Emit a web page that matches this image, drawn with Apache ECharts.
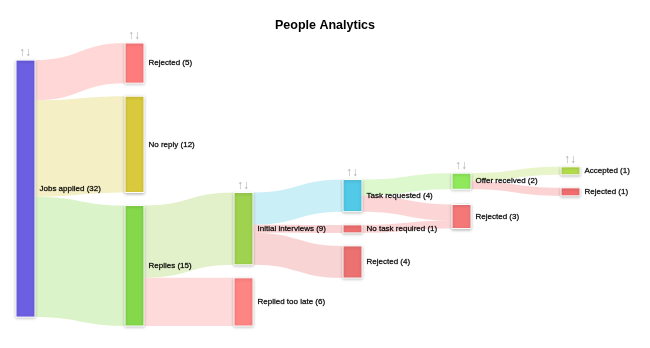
<!DOCTYPE html>
<html>
<head>
<meta charset="utf-8">
<title>People Analytics</title>
<script src="https://cdn.jsdelivr.net/npm/echarts@6/dist/echarts.min.js"></script>
<style>
  html, body { margin: 0; padding: 0; background: #fff; }
  #chart { width: 650px; height: 348px; }
</style>
</head>
<body>
<div id="chart"></div>
<script>
// Stages of the application funnel (node labels, in column order)
const nodeLabels = [
  'Jobs applied',
  'Rejected', 'No reply', 'Replies',
  'Initial interviews', 'Replied too late',
  'Task requested', 'No task required', 'Rejected',
  'Offer received', 'Rejected',
  'Accepted', 'Rejected'
];
const nodeColors = [
  '#6c5fe2',
  '#ff7c7c', '#d9c93c', '#84d84a',
  '#9fd24f', '#ff8484',
  '#52c9e6', '#ee7070', '#ec7171',
  '#8fe95b', '#f47878',
  '#b4dc4e', '#f26e6e'
];

// Flows between stages (indices into nodeLabels)
const linkSources = [0, 0, 0, 3, 3, 4, 4, 4, 6, 6, 7, 9, 9];
const linkTargets = [1, 2, 3, 4, 5, 6, 7, 8, 9, 10, 10, 11, 12];
const linkValues  = [5, 12, 15, 9, 6, 4, 1, 4, 2, 2, 1, 1, 1];

// Node totals: the larger of inflow and outflow
const inflow = nodeLabels.map(() => 0);
const outflow = nodeLabels.map(() => 0);
linkValues.forEach((v, i) => {
  outflow[linkSources[i]] += v;
  inflow[linkTargets[i]] += v;
});
const nodeTotals = nodeLabels.map((_, i) => Math.max(inflow[i], outflow[i]));

const layoutBox = { left: 16, top: 43, right: 70, bottom: 22 };
const nodeGap = 13;
const nodeWidth = 19;

// Vertical node arrangement: relaxation over link positions that keeps
// the listed order inside each column (d3-sankey style).
function arrangeColumns(height, gap, iterations) {
  const nodes = nodeLabels.map((_, i) => ({
    index: i, value: nodeTotals[i], sourceLinks: [], targetLinks: [], layer: 0, y0: 0, y1: 0
  }));
  const links = linkValues.map((v, i) => ({
    source: nodes[linkSources[i]], target: nodes[linkTargets[i]], value: v, width: 0
  }));
  links.forEach((l) => { l.source.sourceLinks.push(l); l.target.targetLinks.push(l); });

  // column = longest path from a starting node
  for (let pass = 0; pass < nodes.length; pass++) {
    links.forEach((l) => { l.target.layer = Math.max(l.target.layer, l.source.layer + 1); });
  }
  const columns = [];
  nodes.forEach((nd) => { (columns[nd.layer] = columns[nd.layer] || []).push(nd); });

  const maxLen = Math.max(...columns.map((c) => c.length));
  const py = Math.min(gap, height / (maxLen - 1));
  const ky = Math.min(...columns.map((c) =>
    (height - (c.length - 1) * py) / c.reduce((s, nd) => s + nd.value, 0)));

  const byTarget = (a, b) => a.target.y0 - b.target.y0 || a.target.index - b.target.index;
  const bySource = (a, b) => a.source.y0 - b.source.y0 || a.source.index - b.source.index;
  const sortLinks = (nd) => {
    nd.sourceLinks.sort(byTarget);
    nd.targetLinks.sort(bySource);
  };
  const reorderNodeLinks = (nd) => {
    nd.targetLinks.forEach((l) => l.source.sourceLinks.sort(byTarget));
    nd.sourceLinks.forEach((l) => l.target.targetLinks.sort(bySource));
  };

  columns.forEach((col) => {
    let y = 0;
    col.forEach((nd) => {
      nd.y0 = y;
      nd.y1 = y + nd.value * ky;
      y = nd.y1 + py;
      nd.sourceLinks.forEach((l) => { l.width = l.value * ky; });
    });
    const spare = (height - y + py) / (col.length + 1);
    col.forEach((nd, i) => { nd.y0 += spare * (i + 1); nd.y1 += spare * (i + 1); });
    col.forEach(sortLinks);
  });

  const pushDown = (col, y, i, alpha) => {
    for (; i < col.length; ++i) {
      const nd = col[i];
      const dy = (y - nd.y0) * alpha;
      if (dy > 1e-6) { nd.y0 += dy; nd.y1 += dy; }
      y = nd.y1 + py;
    }
  };
  const pushUp = (col, y, i, alpha) => {
    for (; i >= 0; --i) {
      const nd = col[i];
      const dy = (nd.y1 - y) * alpha;
      if (dy > 1e-6) { nd.y0 -= dy; nd.y1 -= dy; }
      y = nd.y0 - py;
    }
  };
  const resolveCollisions = (col, alpha) => {
    const i = col.length >> 1;
    const subject = col[i];
    pushUp(col, subject.y0 - py, i - 1, alpha);
    pushDown(col, subject.y1 + py, i + 1, alpha);
    pushUp(col, height, col.length - 1, alpha);
    pushDown(col, 0, 0, alpha);
  };
  const targetTop = (source, target) => {
    let y = source.y0 - (source.sourceLinks.length - 1) * py / 2;
    for (const l of source.sourceLinks) { if (l.target === target) break; y += l.width + py; }
    for (const l of target.targetLinks) { if (l.source === source) break; y -= l.width; }
    return y;
  };
  const sourceTop = (source, target) => {
    let y = target.y0 - (target.targetLinks.length - 1) * py / 2;
    for (const l of target.targetLinks) { if (l.source === source) break; y += l.width + py; }
    for (const l of source.sourceLinks) { if (l.target === target) break; y -= l.width; }
    return y;
  };

  for (let it = 0; it < iterations; ++it) {
    const alpha = Math.pow(0.99, it);
    const beta = Math.max(1 - alpha, (it + 1) / iterations);
    for (let c = columns.length - 2; c >= 0; --c) {
      const col = columns[c];
      col.forEach((source) => {
        let y = 0, w = 0;
        source.sourceLinks.forEach((l) => {
          const v = l.value * (l.target.layer - source.layer);
          y += sourceTop(source, l.target) * v;
          w += v;
        });
        if (!(w > 0)) return;
        const dy = (y / w - source.y0) * alpha;
        source.y0 += dy; source.y1 += dy;
        reorderNodeLinks(source);
      });
      resolveCollisions(col, beta);
    }
    for (let c = 1; c < columns.length; ++c) {
      const col = columns[c];
      col.forEach((target) => {
        let y = 0, w = 0;
        target.targetLinks.forEach((l) => {
          const v = l.value * (target.layer - l.source.layer);
          y += targetTop(l.source, target) * v;
          w += v;
        });
        if (!(w > 0)) return;
        const dy = (y / w - target.y0) * alpha;
        target.y0 += dy; target.y1 += dy;
        reorderNodeLinks(target);
      });
      resolveCollisions(col, beta);
    }
  }
  return nodes.map((nd) => nd.y0 / height);
}

const chart = echarts.init(document.getElementById('chart'), null, { renderer: 'canvas' });
const plotHeight = chart.getHeight() - layoutBox.top - layoutBox.bottom;
const nodeLocalY = arrangeColumns(plotHeight, nodeGap, 6);

const nodes = nodeLabels.map((label, i) => ({
  name: 'node' + i,
  value: nodeTotals[i],
  localY: nodeLocalY[i],
  itemStyle: { color: nodeColors[i] }
}));
const links = linkValues.map((v, i) => ({
  source: 'node' + linkSources[i],
  target: 'node' + linkTargets[i],
  value: v
}));

const fontFamily = '"Liberation Sans", Arial, sans-serif';

chart.setOption({
  animation: false,
  title: {
    text: 'People Analytics',
    left: 'center',
    top: 14,
    textStyle: { fontFamily, fontSize: 12.5, fontWeight: 'bold', color: '#000' }
  },
  series: [{
    type: 'sankey',
    left: layoutBox.left,
    top: layoutBox.top,
    right: layoutBox.right,
    bottom: layoutBox.bottom,
    nodeWidth,
    nodeGap,
    layoutIterations: 0,
    nodeAlign: 'left',
    draggable: false,
    data: nodes,
    links,
    itemStyle: {
      borderColor: '#fff',
      borderWidth: 1,
      shadowBlur: 3,
      shadowColor: 'rgba(0,0,0,0.25)',
      shadowOffsetY: 1
    },
    lineStyle: { color: 'target', opacity: 0.3, curveness: 0.5 },
    emphasis: { disabled: true },
    label: {
      position: 'right',
      distance: 4,
      fontFamily,
      fontSize: 8,
      color: '#000',
      textBorderColor: 'rgba(0,0,0,0.55)',
      textBorderWidth: 0.4,
      formatter: (p) => nodeLabels[p.dataIndex] + ' (' + nodeTotals[p.dataIndex] + ')'
    }
  }]
});

// Drag handles above the topmost node of every column
function addColumnHandles() {
  const seriesModel = chart.getModel().getSeriesByIndex(0);
  const data = seriesModel.getData();
  const box = seriesModel.layoutInfo;
  const topByColumn = {};
  for (let i = 0; i < data.count(); i++) {
    const l = data.getItemLayout(i);
    const y = nodeLocalY[i] * box.height;
    const key = Math.round(l.x);
    if (!topByColumn[key] || y < topByColumn[key].y) topByColumn[key] = { x: l.x, y };
  }
  const elements = Object.keys(topByColumn).map((k) => {
    const t = topByColumn[k];
    return {
      type: 'text',
      x: box.x + t.x + 3,
      y: box.y + t.y - 1,
      silent: true,
      style: {
        text: '↑↓',
        fill: '#ababab',
        font: '12px ' + fontFamily,
        align: 'left',
        verticalAlign: 'bottom'
      }
    };
  });
  chart.setOption({ graphic: elements });
}
addColumnHandles();
</script>
</body>
</html>
